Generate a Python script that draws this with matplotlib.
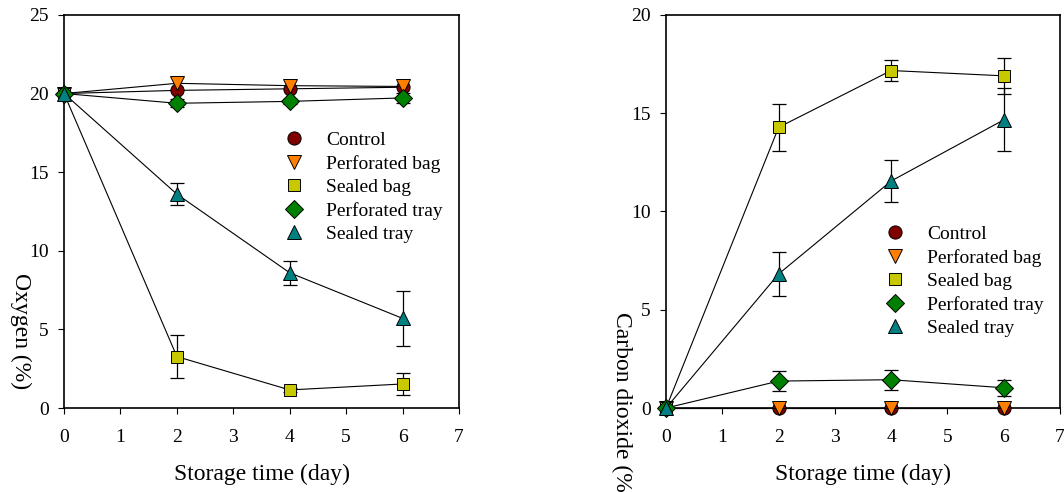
import numpy as np
import matplotlib
matplotlib.use("Agg")
import matplotlib.pyplot as plt
from matplotlib.lines import Line2D

plt.rcParams['font.family'] = ['Liberation Serif', 'DejaVu Serif']

days = [0, 2, 4, 6]
names = ["Control", "Perforated bag", "Sealed bag", "Perforated tray", "Sealed tray"]

# oxygen (%)
o2_control = [20.0, 20.2, 20.3, 20.4]
o2_perf_bag = [20.0, 20.65, 20.5, 20.45]
o2_sealed_bag = [20.0, 3.27, 1.15, 1.53]
o2_perf_tray = [20.0, 19.38, 19.5, 19.72]
o2_sealed_tray = [20.0, 13.6, 8.6, 5.7]
o2_err_sealed_bag = [0, 1.37, 0.1, 0.7]
o2_err_sealed_tray = [0, 0.7, 0.77, 1.75]
o2_err_perf_tray = [0, 0.25, 0.15, 0.3]

# carbon dioxide (%)
co2_control = [0, 0, 0, 0]
co2_perf_bag = [0, 0, 0, 0]
co2_sealed_bag = [0, 14.28, 17.17, 16.9]
co2_perf_tray = [0, 1.37, 1.44, 1.03]
co2_sealed_tray = [0, 6.82, 11.55, 14.66]
co2_err_sealed_bag = [0, 1.2, 0.55, 0.9]
co2_err_sealed_tray = [0, 1.1, 1.05, 1.6]
co2_err_perf_tray = [0, 0.5, 0.5, 0.4]

colors = ["#800000", "#ff8000", "#c8c800", "#008000", "#008080"]
markers = ["o", "v", "s", "D", "^"]
msizes = [9.5, 9.5, 9, 9, 10]

fig = plt.figure(figsize=(10.64, 4.92), dpi=100)
ax1 = fig.add_axes([0.0602, 0.1707, 0.3712, 0.799])
ax2 = fig.add_axes([0.626, 0.1707, 0.3703, 0.799])


def draw(ax, series, errs):
    for i, y in enumerate(series):
        e = errs[i]
        if e is not None:
            ax.errorbar(days, y, yerr=e, fmt="none", ecolor="black",
                        elinewidth=0.9, capsize=5, capthick=0.9, zorder=2)
        ax.plot(days, y, color="black", lw=0.8, marker=markers[i],
                markersize=msizes[i], markerfacecolor=colors[i],
                markeredgecolor="black", markeredgewidth=0.7, zorder=3 + i,
                clip_on=False)


def style(ax, ymax, ystep):
    ax.set_xlim(0, 7)
    ax.set_ylim(0, ymax)
    ax.set_xticks(range(0, 8))
    ax.set_yticks(np.arange(0, ymax + 0.1, ystep))
    ax.tick_params(direction="out", length=4, width=0.8, labelsize=14,
                   top=False, right=False)
    ax.tick_params(axis="x", pad=11)
    ax.tick_params(axis="y", pad=7)
    for s in ax.spines.values():
        s.set_linewidth(1.2)
    ax.set_xlabel("Storage time (day)", fontsize=17, labelpad=13)


def legend(ax, x, y):
    handles = [Line2D([], [], ls="none", marker=markers[i], markersize=msizes[i],
                      markerfacecolor=colors[i], markeredgecolor="black",
                      markeredgewidth=0.7) for i in range(len(names))]
    ax.legend(handles, names, loc="upper left", bbox_to_anchor=(x, y),
              frameon=False, fontsize=14, handlelength=1.0, handletextpad=1.15,
              labelspacing=0.3, borderpad=0, borderaxespad=0)


draw(ax1, [o2_control, o2_perf_bag, o2_sealed_bag, o2_perf_tray, o2_sealed_tray],
     [None, None, o2_err_sealed_bag, o2_err_perf_tray, o2_err_sealed_tray])
style(ax1, 25, 5)
legend(ax1, 0.557, 0.704)
ax1.text(-0.111, 0.3435, "Oxygen (%)", transform=ax1.transAxes, rotation=270,
         ha="center", va="top", fontsize=17)

draw(ax2, [co2_control, co2_perf_bag, co2_sealed_bag, co2_perf_tray, co2_sealed_tray],
     [None, None, co2_err_sealed_bag, co2_err_perf_tray, co2_err_sealed_tray])
style(ax2, 20, 5)
legend(ax2, 0.556, 0.465)
ax2.text(-0.112, 0.244, "Carbon dioxide (%)", transform=ax2.transAxes,
         rotation=270, ha="center", va="top", fontsize=17)

fig.savefig("out.png", dpi=100)
